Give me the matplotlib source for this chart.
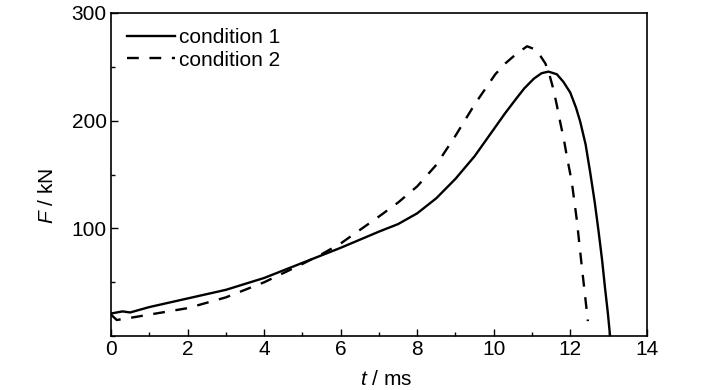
import matplotlib
matplotlib.use("Agg")
import matplotlib.pyplot as plt
from matplotlib.ticker import MultipleLocator

FS = 15
plt.rcParams["font.family"] = ["Liberation Sans", "DejaVu Sans"]
plt.rcParams["mathtext.fontset"] = "custom"
plt.rcParams["mathtext.it"] = "Liberation Sans:italic"
plt.rcParams["mathtext.rm"] = "Liberation Sans"

# ---- data ----
t1 = [0, 0.3, 0.5, 1.0, 1.5, 2, 3, 4, 5, 6, 7, 7.5, 8, 8.5, 9, 9.5, 9.9,
      10.3, 10.6, 10.8, 11.05, 11.25, 11.43, 11.65, 11.82, 12.0, 12.15,
      12.26, 12.4, 12.52, 12.64, 12.74, 12.83, 12.91, 12.98, 13.04]
f1 = [21, 23, 22, 27, 31, 35, 43, 54, 68, 82, 97, 104, 114, 128, 146, 167,
      187, 207, 221, 230, 239, 244, 245.5, 243, 236, 226, 212, 199, 178, 152,
      124, 97, 71, 44, 22, 0]

t2 = [0, 0.15, 0.5, 1, 2, 3, 4, 5, 5.5, 6, 7, 7.5, 8, 8.5, 9, 9.5, 10.04,
      10.3, 10.56, 10.87, 11.09, 11.22, 11.35, 11.46, 11.56, 11.65, 11.74,
      11.83, 11.91, 12.04, 12.17, 12.3, 12.46]
f2 = [20, 15, 17, 20, 26, 36, 50, 67, 76, 86, 111, 124, 139, 159, 186, 215,
      243, 253, 261, 269, 266, 260, 253, 242, 229, 214, 198, 183, 167, 143,
      108, 65, 14]

labels = ["condition 1", "condition 2"]

fig = plt.figure(figsize=(7.28, 3.9), dpi=100)
ax = fig.add_axes([0.1525, 0.138, 0.736, 0.829])

ax.plot(t1, f1, color="black", lw=1.7, ls="-", label=labels[0])
ax.plot(t2, f2, color="black", lw=1.7, ls=(0, (5, 4.5)), label=labels[1])

ax.set_xlim(0, 14)
ax.set_ylim(0, 300)
ax.set_xticks(range(0, 15, 2))
ax.set_yticks([100, 200, 300])
ax.xaxis.set_minor_locator(MultipleLocator(1))
ax.yaxis.set_minor_locator(MultipleLocator(50))
ax.tick_params(which="both", direction="in", top=False, right=False,
               labelsize=FS, width=1)
ax.tick_params(which="major", length=5, pad=3)
ax.tick_params(which="minor", length=3)
for s in ax.spines.values():
    s.set_linewidth(1.2)

ax.set_xlabel("$t$ / ms", fontsize=FS)
ax.set_ylabel("$F$ / kN", fontsize=FS)
ax.xaxis.set_label_coords(0.513, -0.133, transform=ax.transAxes)
ax.yaxis.set_label_coords(-0.118, 0.433, transform=ax.transAxes)
ax.xaxis.label.set_va("center")
ax.yaxis.label.set_va("center")

ax.legend(loc="upper left", frameon=False, fontsize=FS, handlelength=2.3,
          handletextpad=0.2, labelspacing=0.15, borderaxespad=0.45,
          borderpad=0.3)

plt.savefig("out.png", dpi=100)
plt.close()
